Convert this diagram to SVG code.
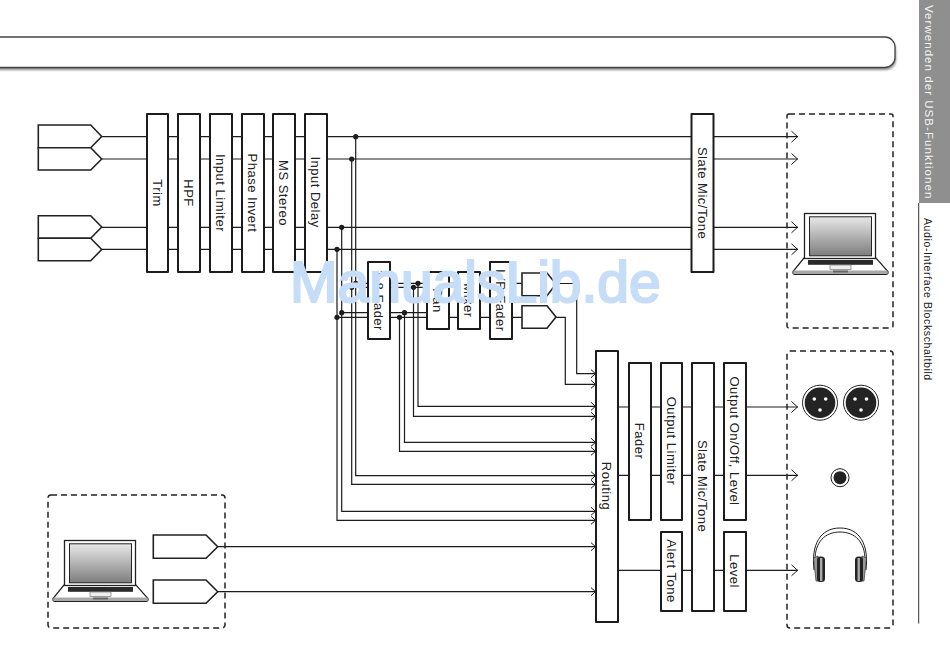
<svg xmlns="http://www.w3.org/2000/svg" xmlns:xlink="http://www.w3.org/1999/xlink" width="950" height="670" viewBox="0 0 950 670">
<style>
text{font-family:"Liberation Sans",Arial,sans-serif}
.b{fill:#fff;stroke:#1c1c1c;stroke-width:2;stroke-linejoin:round}
.p{fill:#fff;stroke:#222;stroke-width:1.6;stroke-linejoin:miter}
.t{font-size:13px;letter-spacing:.5px;fill:#222;text-anchor:middle}
.c{fill:none;stroke:#1c1c1c;stroke-width:1.2}
.a{marker-end:url(#big)}
.r{marker-end:url(#small)}
.d{fill:#1c1c1c}
.dash{fill:none;stroke:#222;stroke-width:1.5;stroke-dasharray:6 4}
</style>
<defs>
<marker id="big" markerUnits="userSpaceOnUse" markerWidth="10" markerHeight="16" refX="8" refY="7" orient="auto"><path d="M1.5,1.5L7.5,7L1.5,12.5" fill="none" stroke="#1c1c1c" stroke-width="1"/></marker>
<marker id="small" markerUnits="userSpaceOnUse" markerWidth="8" markerHeight="12" refX="6.5" refY="5" orient="auto"><path d="M1.5,1L6,5L1.5,9" fill="none" stroke="#1c1c1c" stroke-width="1"/></marker>
<linearGradient id="scr" x1="0" y1="0" x2="0" y2="1"><stop offset="0" stop-color="#e8e8e8"/><stop offset="1" stop-color="#7d7d7d"/></linearGradient>
<filter id="sh" x="-2%" y="-30%" width="104%" height="160%"><feGaussianBlur stdDeviation="1.2"/></filter>
<g id="laptop">
<path d="M804,258L793,271.5Q792.5,274.5 795,274.5L886,274.5Q888.5,274.5 888,271.5L876,258Z" fill="#fff" stroke="#222" stroke-width="1.2"/>
<rect x="793.5" y="270.500" width="94" height="3.500" fill="#a8a8a8"/>
<rect x="804.5" y="213.5" width="71" height="45" fill="#fff" stroke="#222" stroke-width="1.3"/>
<rect x="809.5" y="216.8" width="62" height="39" fill="url(#scr)" stroke="#222" stroke-width="1"/>
<rect x="808" y="260" width="65" height="4.8" fill="#2a2a2a"/>
<rect x="830" y="265" width="21" height="4.5" fill="#eee" stroke="#777" stroke-width=".7"/>
<rect x="833" y="270.5" width="15" height="2" fill="#666"/>
</g>
</defs>

<g id="page-header">
<rect x="-20" y="40" width="916" height="30" rx="10" fill="#8a8a8a" filter="url(#sh)"/>
<rect x="-20" y="37" width="915" height="30.5" rx="10" fill="#fff" stroke="#444" stroke-width="1.3"/>
</g>

<g id="sidebar">
<rect x="919" y="0" width="31" height="203" fill="#8f8f8f"/>
<text transform="translate(924.5,5) rotate(90)" font-size="11.5" letter-spacing="1.05" fill="#f2f2f2">Verwenden der USB-Funktionen</text>
<path d="M918.7,203V623.5" fill="none" stroke="#333" stroke-width="1"/>
<text transform="translate(924,218) rotate(90)" font-size="10.5" letter-spacing=".62" fill="#222">Audio-Interface Blockschaltbild</text>
</g>

<g id="connectors">
<path class="c a" d="M102,136.7H798"/>
<path class="c a" d="M102,159H798"/>
<path class="c a" d="M102,227.3H798"/>
<path class="c a" d="M102,249.3H798"/>
<path class="c r" d="M355.7,136.7V475.7H596"/>
<path class="c r" d="M351.7,159V484.3H596"/>
<path class="c r" d="M341.7,227.3V511.3H596"/>
<path class="c r" d="M337,249.3V520.3H596"/>
<path class="c" d="M355.7,283.3H427M351.7,287.3H427M341.7,312.7H427M337,317.3H427"/>
<path class="c" d="M449,283.3H522M449,317.3H522"/>
<path class="c r" d="M418,283.3V406.3H596"/>
<path class="c r" d="M413.5,287.3V416.3H596"/>
<path class="c r" d="M404.5,312.7V442.3H596"/>
<path class="c r" d="M399.5,317.3V451.3H596"/>
<path class="c r" d="M556,283.5H576.7V373.7H596"/>
<path class="c r" d="M556,317.3H565.3V384.3H596"/>
<path class="c r" d="M217.7,546.7H596"/>
<path class="c r" d="M217.7,591.7H596"/>
<path class="c a" d="M618,407H798"/>
<path class="c a" d="M618,475.3H798"/>
<path class="c a" d="M618,570.3H798"/>
<g class="d">
<circle cx="355.7" cy="136.7" r="2.6"/><circle cx="351.7" cy="159" r="2.6"/><circle cx="341.7" cy="227.3" r="2.6"/><circle cx="337" cy="249.3" r="2.6"/>
<circle cx="355.7" cy="283.3" r="2.6"/><circle cx="351.7" cy="287.3" r="2.6"/><circle cx="341.7" cy="312.7" r="2.6"/><circle cx="337" cy="317.3" r="2.6"/>
<circle cx="418" cy="283.3" r="2.6"/><circle cx="413.5" cy="287.3" r="2.6"/><circle cx="404.5" cy="312.7" r="2.6"/><circle cx="399.5" cy="317.3" r="2.6"/>
</g>
</g>

<g id="in-1"><path class="p" d="M38.3,125H90.7L101.7,136.5L90.7,147.7H38.3Z"/></g>
<g id="in-2"><path class="p" d="M38.3,147.7H90.7L101.7,159L90.7,170H38.3Z"/></g>
<g id="in-3"><path class="p" d="M38.3,215.7H90.7L101.7,227L90.7,238.3H38.3Z"/></g>
<g id="in-4"><path class="p" d="M38.3,238.3H90.7L101.7,249.5L90.7,260.7H38.3Z"/></g>

<g id="trim"><rect class="b" x="147" y="114" width="21" height="158"/><text class="t" transform="translate(157.5,193) rotate(90)" y="4.6">Trim</text></g>
<g id="hpf"><rect class="b" x="178" y="114" width="22" height="158"/><text class="t" transform="translate(189,193) rotate(90)" y="4.6">HPF</text></g>
<g id="input-limiter"><rect class="b" x="210" y="114" width="22" height="158"/><text class="t" transform="translate(221,193) rotate(90)" y="4.6">Input Limiter</text></g>
<g id="phase-invert"><rect class="b" x="242" y="114" width="22" height="158"/><text class="t" transform="translate(253,193) rotate(90)" y="4.6">Phase Invert</text></g>
<g id="ms-stereo"><rect class="b" x="273" y="114" width="22" height="158"/><text class="t" transform="translate(284,193) rotate(90)" y="4.6">MS Stereo</text></g>
<g id="input-delay"><rect class="b" x="305" y="114" width="22" height="158"/><text class="t" transform="translate(316,192) rotate(90)" y="4.6">Input Delay</text></g>
<g id="slate-top"><rect class="b" x="691.5" y="114" width="22" height="158"/><text class="t" transform="translate(702.5,193) rotate(90)" y="4.6">Slate Mic/Tone</text></g>

<g id="fader-1-8"><rect class="b" x="368" y="262" width="22" height="77"/><text class="t" transform="translate(379,300.500) rotate(90)" y="4.6">1-8 Fader</text></g>
<g id="pan"><rect class="b" x="427" y="272" width="22" height="57"/><text class="t" transform="translate(438,300.500) rotate(90)" y="4.6">Pan</text></g>
<g id="mixer"><rect class="b" x="458" y="272" width="22" height="57"/><text class="t" transform="translate(469,300.500) rotate(90)" y="4.6">Mixer</text></g>
<g id="fader-lr"><rect class="b" x="490" y="262" width="22" height="77"/><text class="t" transform="translate(501,300.500) rotate(90)" y="4.6">L/R Fader</text></g>
<g id="out-lr-1"><path class="p" d="M522,273H547L556,284L547,295.700H522Z"/></g>
<g id="out-lr-2"><path class="p" d="M522,305.700H547L556,317L547,328.300H522Z"/></g>

<g id="routing"><rect class="b" x="596" y="351" width="22" height="271"/><text class="t" transform="translate(607,486) rotate(90)" y="4.6">Routing</text></g>
<g id="fader"><rect class="b" x="629" y="363" width="22" height="157"/><text class="t" transform="translate(640,441) rotate(90)" y="4.6">Fader</text></g>
<g id="output-limiter"><rect class="b" x="661" y="363" width="21" height="157"/><text class="t" transform="translate(671.500,441) rotate(90)" y="4.6">Output Limiter</text></g>
<g id="slate-bottom"><rect class="b" x="692" y="363" width="22" height="248"/><text class="t" transform="translate(703,486) rotate(90)" y="4.6">Slate Mic/Tone</text></g>
<g id="output-onoff"><rect class="b" x="724" y="363" width="22" height="157"/><text class="t" transform="translate(735,441) rotate(90)" y="4.6">Output On/Off, Level</text></g>
<g id="alert-tone"><rect class="b" x="661" y="532" width="21" height="79"/><text class="t" transform="translate(671.500,571) rotate(90)" y="4.6">Alert Tone</text></g>
<g id="level"><rect class="b" x="724" y="532" width="22" height="79"/><text class="t" transform="translate(735,571) rotate(90)" y="4.6">Level</text></g>

<g id="computer-out">
<rect class="dash" x="787" y="114" width="106" height="214" rx="2"/>
<use href="#laptop"/>
</g>
<g id="outputs">
<rect class="dash" x="787" y="351" width="106" height="277" rx="3"/>
<g id="xlr-1"><circle cx="820" cy="402.700" r="17.500" fill="#fff" stroke="#222" stroke-width="1"/><circle cx="820" cy="402.700" r="15.300" fill="#232323"/><g fill="#fff"><circle cx="814.300" cy="399" r="1.800"/><circle cx="825.700" cy="399" r="1.800"/><circle cx="820" cy="410" r="1.800"/></g></g>
<g id="xlr-2"><circle cx="861" cy="402.700" r="17.500" fill="#fff" stroke="#222" stroke-width="1"/><circle cx="861" cy="402.700" r="15.300" fill="#232323"/><g fill="#fff"><circle cx="855" cy="399" r="1.800"/><circle cx="866.500" cy="399" r="1.800"/><circle cx="861" cy="410" r="1.800"/></g></g>
<g id="jack"><circle cx="840" cy="477.700" r="9" fill="#fff" stroke="#222" stroke-width="1"/><circle cx="840" cy="477.700" r="6.500" fill="#232323"/></g>
<g id="headphones">
<path d="M814,570C811,545 820,528 840,528C860,528 869,545 866,570" fill="none" stroke="#222" stroke-width="1"/>
<path d="M815,560C815,542 825,532 840,532C855,532 865,542 865,560" fill="none" stroke="#222" stroke-width="1"/>
<path d="M813.500,558L816,581L820,581L818,556ZM866.500,558L864,581L860,581L862,556Z" fill="#999" stroke="#333" stroke-width=".7"/>
<rect x="817" y="556.500" width="8" height="25.500" rx="3.500" fill="#232323"/>
<rect x="855" y="556.500" width="8" height="25.500" rx="3.500" fill="#232323"/>
<rect x="820" y="558" width="2.400" height="23" fill="#aaa"/>
<rect x="857.500" y="558" width="2.400" height="23" fill="#aaa"/>
</g>
</g>
<g id="computer-in">
<rect class="dash" x="48" y="495" width="177" height="133" rx="3"/>
<use href="#laptop" x="-740" y="327"/>
<g id="usb-in-1"><path class="p" d="M153.300,535H206L217.700,546.700L206,558.300H153.300Z"/></g>
<g id="usb-in-2"><path class="p" d="M153.300,580H206L217.700,591.700L206,603.300H153.300Z"/></g>
</g>

<g id="watermark"><text x="290" y="302" font-size="57" fill="#c6ddf8" stroke="#c6ddf8" stroke-width="2.200">ManualsLib.de</text></g>
</svg>
